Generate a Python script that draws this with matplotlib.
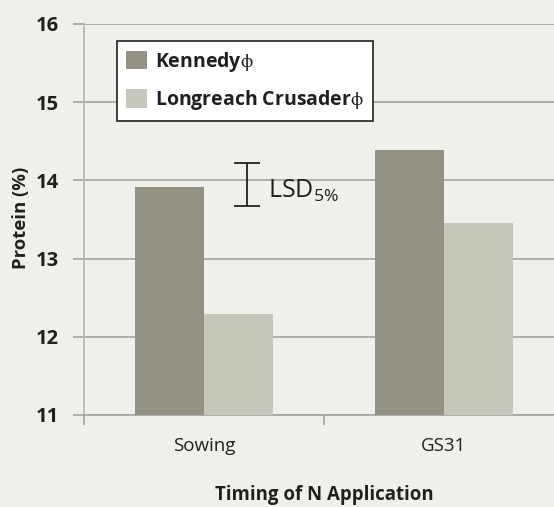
import numpy as np
import matplotlib
matplotlib.use("Agg")
import matplotlib.pyplot as plt
from matplotlib.patches import Patch

plt.rcParams['font.family'] = ['Open Sans', 'DejaVu Sans']
plt.rcParams['mathtext.fontset'] = 'custom'
plt.rcParams['mathtext.rm'] = 'Open Sans'
plt.rcParams['mathtext.it'] = 'DejaVu Sans'
plt.rcParams['mathtext.default'] = 'regular'

# data
timings = ['Sowing', 'GS31']
varieties = [r'Kennedy$\phi$', r'Longreach Crusader$\phi$']
kennedy = [13.92, 14.39]
crusader = [12.29, 13.46]
lsd_value = 0.55
lsd_centre = 13.95
yticks = [11, 12, 13, 14, 15, 16]

c_ken = '#939282'
c_cru = '#c6c6bb'
bg = '#f0f0eb'
grid_c = '#a3a3a3'
txt_c = '#231f20'

fig = plt.figure(figsize=(5.54, 5.07), dpi=100, facecolor=bg)
ax = fig.add_axes([84/554, 1-415/507, 480/554, 391/507], facecolor=bg)

x = np.arange(len(timings))
w = 0.2875
ax.bar(x - w/2, kennedy, w, color=c_ken, zorder=3)
ax.bar(x + w/2, crusader, w, color=c_cru, zorder=3)

ax.set_ylim(11, 16)
ax.set_xlim(-0.5, 1.5)
ax.set_yticks(yticks)
ax.set_yticklabels([str(t) for t in yticks], fontsize=14.5, fontweight='bold', color=txt_c)
ax.yaxis.grid(True, color=grid_c, linewidth=1.2, zorder=0)
ax.tick_params(axis='y', length=8, width=1.2, color=grid_c, pad=10)

# category boundaries as ticks, labels in the middle
ax.set_xticks([-0.5, 0.5, 1.5])
ax.set_xticklabels([])
ax.set_xticks(x, minor=True)
ax.set_xticklabels(timings, minor=True, fontsize=13.5, color=txt_c)
ax.tick_params(axis='x', which='major', length=7, width=1.2, color=grid_c)
ax.tick_params(axis='x', which='minor', length=0, pad=16)

for s in ['top', 'right']:
    ax.spines[s].set_visible(False)
ax.spines['left'].set_color('#b4b4b4')
ax.spines['left'].set_linewidth(1.2)
ax.spines['bottom'].set_color(grid_c)
ax.spines['bottom'].set_linewidth(1.2)

ax.set_ylabel('Protein (%)', fontsize=13.3, fontweight='bold', color=txt_c)
ax.yaxis.set_label_coords(-0.132, 0.504)
ax.yaxis.label.set_va('center')
ax.set_xlabel('Timing of N Application', fontsize=13.4, fontweight='bold', color=txt_c)
ax.xaxis.set_label_coords(0.5, -0.218)
ax.xaxis.label.set_va('baseline')

# LSD bar
ax.errorbar(0.178, lsd_centre, yerr=lsd_value/2, color=txt_c, capsize=9.7,
            elinewidth=1.3, capthick=1.3, zorder=4)
ax.text(0.265, 13.86, r'LSD$_{5\%}$', fontsize=18, color=txt_c, va='center', ha='left')

handles = [Patch(facecolor=c_ken), Patch(facecolor=c_cru)]
leg = ax.legend(handles, varieties, loc='upper left', bbox_to_anchor=(0.069, 0.9565),
                borderaxespad=0, fancybox=False, framealpha=1, edgecolor=txt_c,
                prop={'size': 14, 'weight': 'bold'}, handlelength=1.1, handleheight=1.1,
                labelspacing=0.75, borderpad=0.45, handletextpad=0.4)
leg.get_frame().set_linewidth(1.2)
leg.set_zorder(5)
for t in leg.get_texts():
    t.set_color(txt_c)

fig.savefig('out.png', dpi=100, facecolor=bg)
